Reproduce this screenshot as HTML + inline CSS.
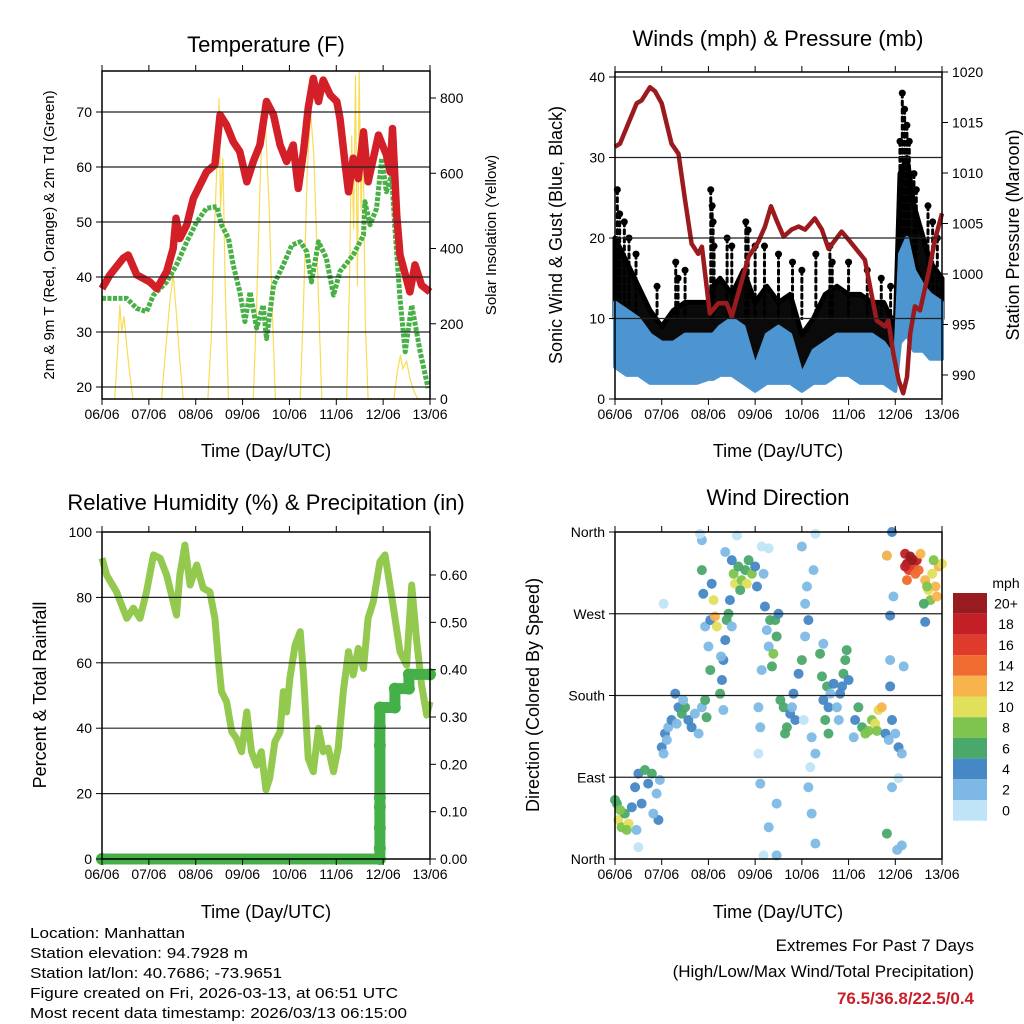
<!DOCTYPE html>
<html><head><meta charset="utf-8"><style>
html,body{margin:0;padding:0;background:#fff;}
svg{display:block;font-family:"Liberation Sans",sans-serif;}
</style></head><body>
<svg id="chart" width="1024" height="1024" viewBox="0 0 1024 1024" xmlns="http://www.w3.org/2000/svg">
<rect x="0" y="0" width="1024" height="1024" fill="#fff"/>
<g id="layer-data"></g>
<g id="layer-axes"></g>
<g fill="#000" text-anchor="middle">
<text x="266" y="52" font-size="22">Temperature (F)</text>
<text x="778" y="46" font-size="22">Winds (mph) &amp; Pressure (mb)</text>
<text x="266" y="510" font-size="22">Relative Humidity (%) &amp; Precipitation (in)</text>
<text x="778" y="505" font-size="22">Wind Direction</text>
<text x="266" y="457" font-size="18">Time (Day/UTC)</text>
<text x="778" y="457" font-size="18">Time (Day/UTC)</text>
<text x="266" y="918" font-size="18">Time (Day/UTC)</text>
<text x="778" y="918" font-size="18">Time (Day/UTC)</text>
<text transform="translate(54,235) rotate(-90)" font-size="15">2m &amp; 9m T (Red, Orange) &amp; 2m Td (Green)</text>
<text transform="translate(496,235) rotate(-90)" font-size="15">Solar Insolation (Yellow)</text>
<text transform="translate(562,235) rotate(-90)" font-size="18">Sonic Wind &amp; Gust (Blue, Black)</text>
<text transform="translate(1019,235) rotate(-90)" font-size="18">Station Pressure (Maroon)</text>
<text transform="translate(46,695) rotate(-90)" font-size="18">Percent &amp; Total Rainfall</text>
<text transform="translate(539,695) rotate(-90)" font-size="18">Direction (Colored By Speed)</text>
</g>
<g font-size="15" fill="#000">
<text x="30" y="938" textLength="155" lengthAdjust="spacingAndGlyphs">Location: Manhattan</text>
<text x="30" y="958" textLength="218" lengthAdjust="spacingAndGlyphs">Station elevation: 94.7928 m</text>
<text x="30" y="978" textLength="252" lengthAdjust="spacingAndGlyphs">Station lat/lon: 40.7686; -73.9651</text>
<text x="30" y="998" textLength="368" lengthAdjust="spacingAndGlyphs">Figure created on Fri, 2026-03-13, at 06:51 UTC</text>
<text x="30" y="1018" textLength="377" lengthAdjust="spacingAndGlyphs">Most recent data timestamp: 2026/03/13 06:15:00</text>
</g>
<g text-anchor="end">
<text x="974" y="951" font-size="17">Extremes For Past 7 Days</text>
<text x="974" y="977" font-size="17">(High/Low/Max Wind/Total Precipitation)</text>
<text x="974" y="1004" font-size="17" font-weight="bold" fill="#c8202a">76.5/36.8/22.5/0.4</text>
</g>
</svg>
<script>
// ---------------- DATA ----------------
const dayLabels = ['06/06','07/06','08/06','09/06','10/06','11/06','12/06','13/06'];

const tempDays = [0,0.17,0.45,0.56,0.74,1.02,1.17,1.38,1.52,1.58,1.66,1.81,1.95,2.09,2.23,2.41,2.52,2.66,2.8,2.94,3.09,3.23,3.37,3.51,3.66,3.8,3.94,4.08,4.19,4.3,4.4,4.51,4.62,4.72,4.87,5.01,5.08,5.19,5.26,5.36,5.47,5.58,5.68,5.9,6.07,6.15,6.2,6.29,6.36,6.57,6.68,6.82,7.0];
const tempVals = [37.9,40.4,43.4,44,40.4,39.1,37.9,41,45.2,50.7,47,49.5,54.3,56.7,59.1,60.4,69.5,67.6,64.6,62.8,57.3,61,64,71.9,69.5,64,61,64,56.1,62.8,70.7,76.1,71.9,75.8,73.1,71.9,68.8,60.4,55.5,61.6,57.9,66.4,57.3,65.8,62.2,59.1,67,51.3,44,37.3,42.2,38.5,37.3];

const dewDays = [0,0.24,0.53,0.74,0.95,1.1,1.38,1.59,1.81,2.02,2.23,2.45,2.55,2.7,2.8,2.94,3.05,3.16,3.3,3.44,3.51,3.66,3.87,4.05,4.23,4.37,4.47,4.62,4.79,4.94,5.08,5.36,5.58,5.61,5.72,5.86,5.97,6.07,6.18,6.25,6.36,6.47,6.61,6.79,6.96];
const dewVals = [36.1,36.1,36.1,34.3,33.7,36.7,39.1,42.2,46.4,50,52.5,52.8,49.5,47,42.2,37.3,31.9,37.3,30.7,34.9,28.8,38.5,42.2,45.8,46.4,44.6,39.1,46.4,43.4,36.7,41,44,47.6,53.7,49.5,52.5,61.6,55.5,58.5,48.9,36.1,26.4,34.9,26.4,19.8];

const solarDays = [0,0.27,0.33,0.38,0.42,0.47,0.52,0.58,0.66,1.27,1.35,1.45,1.52,1.58,1.65,1.73,2.26,2.33,2.4,2.47,2.5,2.53,2.58,2.63,2.7,3.23,3.3,3.38,3.45,3.5,3.57,3.63,3.7,4.23,4.3,4.38,4.45,4.52,4.6,4.69,5.22,5.28,5.33,5.37,5.41,5.45,5.49,5.53,5.57,5.62,5.68,6.23,6.3,6.37,6.42,6.5,6.58,6.66,6.74,7.0];
const solarVals = [0,0,120,250,180,220,150,80,0,0,120,260,330,240,120,0,0,160,450,680,800,500,640,300,0,0,250,600,788,700,500,250,0,0,250,600,765,650,350,0,0,300,700,450,860,300,870,500,700,200,0,0,70,117,80,100,50,20,0,0];

const pressDays = [0,0.107,0.285,0.464,0.571,0.75,0.857,1.0,1.21,1.36,1.5,1.64,1.78,1.86,2.03,2.21,2.39,2.5,2.64,2.86,3.07,3.21,3.34,3.46,3.61,3.78,3.93,4.07,4.28,4.43,4.57,4.85,5.0,5.21,5.35,5.6,5.78,5.85,5.96,6.07,6.17,6.25,6.32,6.42,6.53,6.71,6.85,7.0];
const pressVals = [1012.6,1012.9,1014.9,1016.9,1017.2,1018.5,1018.1,1016.9,1012.9,1011.9,1007.3,1003,1002,1002.7,996.1,997.1,997.1,995.8,998.1,1001.7,1003.2,1004.7,1006.7,1005.3,1003.7,1004.4,1004.7,1004.4,1005.5,1004.4,1002.5,1004.2,1003.4,1002.2,1001.4,995.4,994.8,995.4,992.1,989.5,988.2,989.8,994.1,996.8,996.4,1000.1,1003.4,1006];

const windDays = [0,0.25,0.5,0.75,1,1.25,1.5,1.75,2,2.1,2.25,2.5,2.75,3,3.25,3.5,3.75,4,4.25,4.5,4.75,5,5.25,5.5,5.75,6,6.1,6.25,6.4,6.6,6.75,7];
const gustHigh = [20,17,14,11,9,11,12,12,12,14,15,13,16,12,14,12,13,8,10,13,14,13,13,12,12,9,28,30,24,20,17,15];
const gustLow = [10,9,8,6,5,5,6,6,7,7,7,8,7,3,6,5,6,2,5,6,6,6,6,5,5,3,14,20,17,14,12,10];
const sonicHigh = [12,11,10,8,7,7,8,8,8,8,9,10,9,4,8,9,8,3,6,7,8,8,8,8,7,5,18,20,16,14,13,12];
const sonicLow = [4,3,3,2,2,2,2,2,2.5,2.5,3,3,2,1,2,2,2,1,2,2,3,3,2,2,2,1,7,8,6,6,5,5];
const gustPeakDays = [0.05,0.1,0.2,0.3,0.45,0.9,1.3,1.35,1.5,2.05,2.08,2.1,2.12,2.4,2.5,2.8,2.85,3.0,3.2,3.5,3.8,4.0,4.3,4.6,4.65,5.0,5.4,5.7,5.9,6.1,6.15,6.2,6.25,6.3,6.4,6.45,6.7,6.8,6.9];
const gustPeakVals = [26,23,22,20,18,14,17,15,16,26,24,22,19,20,19,22,21,19,19,18,17,16,18,19,17,17,16,15,14,32,38,36,34,32,28,26,24,22,20];

const rhDays = [0,0.1,0.31,0.53,0.67,0.81,0.95,1.1,1.24,1.38,1.59,1.66,1.77,1.88,2.02,2.16,2.3,2.41,2.48,2.55,2.66,2.77,2.87,2.98,3.09,3.19,3.3,3.4,3.5,3.58,3.69,3.8,3.87,3.94,4.01,4.12,4.23,4.3,4.4,4.51,4.62,4.72,4.83,4.94,5.04,5.15,5.26,5.36,5.47,5.58,5.68,5.79,5.93,6.04,6.11,6.22,6.36,6.5,6.61,6.71,6.82,6.93,7.0];
const rhVals = [92,86.8,81.7,73.6,76.7,73.6,81.7,93,92,86.8,74.6,86.8,96,83.8,89.9,82.8,81.7,73.6,61.4,51.2,48.1,38.9,36.9,32.8,45,32.8,28.7,32.8,21.1,24.7,35.9,38.9,51.2,45,55.3,65.4,69.5,56.3,30.8,26.7,40,32.8,33.9,26.7,33.9,51.2,63.4,56.3,64.4,58.3,73.6,78.7,90.9,93,86.8,76.7,63.4,59.3,83.8,67.5,53.2,44,48.1];

const precipDays = [0,5.93,5.93,5.93,5.93,5.93,5.93,5.93,5.93,6.25,6.25,6.55,6.55,7.0];
const precipVals = [0,0,0.023,0.066,0.11,0.13,0.24,0.28,0.32,0.32,0.36,0.36,0.39,0.39];

const dirDays = [0.04,0.07,0.14,0.21,0.29,0.11,0.36,0.0,0.25,
0.43,0.5,0.64,0.71,0.79,0.89,0.93,0.57,0.46,0.82,0.96,0.5,
1.0,1.07,1.14,1.21,1.11,1.04,
1.29,1.36,1.43,1.5,1.57,1.64,1.71,1.79,1.86,1.93,1.96,1.32,1.46,
1.86,1.89,1.93,2.0,2.04,2.07,2.04,2.11,2.14,2.18,1.86,1.82,1.04,
2.25,2.29,2.32,2.36,2.39,2.43,2.46,2.5,2.27,2.32,
2.54,2.57,2.64,2.71,2.79,2.86,2.93,3.0,2.82,2.68,2.61,2.36,2.5,3.04,
3.07,3.11,3.14,3.18,3.21,3.25,3.29,3.36,3.39,3.43,3.46,3.32,3.14,3.29,3.11,3.46,3.29,3.18,3.46,3.07,
3.54,3.61,3.68,3.75,3.82,3.86,3.64,3.79,3.5,
3.93,4.0,4.07,4.14,4.21,4.29,4.14,4.21,4.29,4.0,4.25,4.29,4.07,4.11,4.04,4.18,
4.43,4.46,4.5,4.57,4.54,4.39,4.46,4.61,4.57,
4.68,4.75,4.82,4.89,4.93,4.96,4.86,5.0,4.79,
5.14,5.21,5.29,5.36,5.43,5.5,5.57,5.64,5.71,5.61,5.11,
5.79,5.86,5.93,6.0,6.07,6.14,5.89,5.89,5.93,6.04,5.82,5.93,5.82,5.96,5.89,6.18,6.14,6.07,
6.21,6.25,6.32,6.39,6.46,6.29,6.43,6.54,6.25,6.36,6.21,6.5,
6.64,6.71,6.79,6.86,6.93,7.0,6.75,6.68,6.61,6.89,6.82,6.64,5.82];
const dirDeg = [61,43,35,50,39,54,57,65,32,
79,94,98,83,94,72,43,61,32,50,87,13,
123,138,145,153,131,116,
182,167,160,167,153,145,160,138,167,175,156,149,175,
318,292,256,234,208,303,263,285,267,256,351,358,281,
182,197,219,241,263,270,285,256,223,164,
314,303,322,307,318,329,314,322,303,296,356,338,329,300,
167,145,208,314,278,252,234,212,226,263,245,263,344,342,83,61,35,4,4,116,
175,167,145,160,182,153,138,167,270,
204,219,245,263,134,116,79,50,17,344,318,358,281,300,153,101,
201,175,153,138,190,226,237,182,167,
193,167,182,204,219,230,190,197,153,
153,167,145,138,141,153,149,164,167,141,134,
138,131,153,138,123,116,190,219,79,10,28,360,334,289,268,212,15,89,
336,325,333,322,329,318,314,336,307,329,322,318,
307,296,314,300,322,325,285,300,281,289,329,261,334];
const dirSpeed = [7,10,8,6,11,8,5,6,9,
4,5,7,4,6,3,4,4,3,3,2,1,
4,4,3,5,3,2,
4,5,6,7,5,4,3,2,3,6,6,2,3,
6,4,3,3,6,4,5,10,12,10,2,1,1,
7,5,4,4,6,7,4,3,3,3,
9,10,6,8,7,6,8,5,11,7,1,3,4,4,
2,2,3,3,4,3,3,6,8,6,7,6,1,1,2,3,2,1,3,1,
6,6,6,5,4,4,6,3,4,
5,7,3,4,2,2,2,2,3,2,2,1,3,2,1,1,
6,5,6,6,7,6,3,3,4,
4,3,5,6,6,7,4,5,3,
5,6,7,8,9,8,10,10,12,8,3,
4,3,4,3,5,2,4,3,2,2,6,4,3,2,4,2,2,1,
18,20,20,17,19,16,15,13,14,21,18,14,
12,10,11,12,13,11,9,8,6,12,8,4,12];

const speedBinLabels = ['20+','18','16','14','12','10','8','6','4','2','0'];
const speedColors = ['#bfe4f7','#7db9e4','#4687c5','#4aa86a','#7ec44e','#e2df5b','#f8b44c','#ef6b2f','#de3b2c','#c21f27','#981b1f'];

const tempTicks = [20,30,40,50,60,70];
const solarTicks = [0,200,400,600,800];
const windTicks = [0,10,20,30,40];
const pressTicks = [990,995,1000,1005,1010,1015,1020];
const rhTicks = [0,20,40,60,80,100];
const precipTicks = [0,0.1,0.2,0.3,0.4,0.5,0.6];
const dirTicks = [0,90,180,270,360];
const dirTickLabels = ['North','East','South','West','North'];

// ---------------- HELPERS ----------------
const NS = 'http://www.w3.org/2000/svg';
const dataLayer = document.getElementById('layer-data');
const axesLayer = document.getElementById('layer-axes');
function mk(tag, attrs, parent) {
  const e = document.createElementNS(NS, tag);
  for (const k in attrs) e.setAttribute(k, attrs[k]);
  parent.appendChild(e);
  return e;
}
function linScale(d0, d1, r0, r1) { return v => r0 + (v - d0) * (r1 - r0) / (d1 - d0); }
function pathFrom(xs, ys, sx, sy) {
  return xs.map((d, i) => (i ? 'L' : 'M') + sx(d).toFixed(1) + ',' + sy(ys[i]).toFixed(1)).join('');
}
function bandFrom(xs, hi, lo, sx, sy) {
  let p = xs.map((d, i) => (i ? 'L' : 'M') + sx(d).toFixed(1) + ',' + sy(hi[i]).toFixed(1)).join('');
  for (let i = xs.length - 1; i >= 0; i--) p += 'L' + sx(xs[i]).toFixed(1) + ',' + sy(lo[i]).toFixed(1);
  return p + 'Z';
}

const panels = {
  temp:  {x0:102, x1:430, y0:71,  y1:399},
  wind:  {x0:615, x1:942, y0:72,  y1:399},
  rh:    {x0:102, x1:430, y0:532, y1:859},
  dir:   {x0:615, x1:942, y0:532, y1:859}
};

function drawAxes(key, p, leftTicks, leftScale, leftFmt, rightTicks, rightScale, rightFmt, gridTicks) {
  const g = mk('g', {}, axesLayer);
  
  
  const sx = linScale(0, 7, p.x0, p.x1);
  gridTicks.forEach(v => {
    const y = leftScale(v);
    const gl = mk('line', {x1:p.x0, x2:p.x1, y1:y, y2:y, stroke:'#222', 'stroke-width':1.2}, g);
    
    
  });
  const box = mk('rect', {x:p.x0, y:p.y0, width:p.x1 - p.x0, height:p.y1 - p.y0, fill:'none', stroke:'#000', 'stroke-width':1.5}, g);
  
  
  dayLabels.forEach((lab, i) => {
    const x = sx(i);
    const t1 = mk('line', {x1:x, x2:x, y1:p.y1, y2:p.y1 + 6, stroke:'#000', 'stroke-width':1}, g);
    
    
    const t2 = mk('line', {x1:x, x2:x, y1:p.y0, y2:p.y0 - 6, stroke:'#000', 'stroke-width':1}, g);
    
    
    const tx = mk('text', {x:x, y:p.y1 + 20, 'font-size':14, 'text-anchor':'middle'}, g);
    tx.textContent = lab;
    
    
  });
  leftTicks.forEach((v, i) => {
    const y = leftScale(v);
    const t = mk('line', {x1:p.x0 - 6, x2:p.x0, y1:y, y2:y, stroke:'#000', 'stroke-width':1}, g);
    
    
    const tx = mk('text', {x:p.x0 - 10, y:y + 5, 'font-size':14, 'text-anchor':'end'}, g);
    tx.textContent = leftFmt(v, i);
    
    
  });
  if (rightTicks) {
    rightTicks.forEach((v, i) => {
      const y = rightScale(v);
      const t = mk('line', {x1:p.x1, x2:p.x1 + 6, y1:y, y2:y, stroke:'#000', 'stroke-width':1}, g);
      
      
      const tx = mk('text', {x:p.x1 + 10, y:y + 5, 'font-size':14, 'text-anchor':'start'}, g);
      tx.textContent = rightFmt(v, i);
      
      
    });
  }
}

// ---------------- TEMPERATURE ----------------
(function () {
  const p = panels.temp;
  const sx = linScale(0, 7, p.x0, p.x1);
  const sy = linScale(20, 70, 387, 112);
  const ss = linScale(0, 800, 399, 98);
  const sol = mk('path', {d:pathFrom(solarDays, solarVals, sx, ss), fill:'none', stroke:'#f8dc55', 'stroke-width':1.2}, dataLayer);
  
  
  const dew = mk('path', {d:pathFrom(dewDays, dewVals, sx, sy), fill:'none', stroke:'#47b046', 'stroke-width':5, 'stroke-linejoin':'round', 'stroke-dasharray':'4 1.5'}, dataLayer);
  
  
  const tl = mk('path', {d:pathFrom(tempDays, tempVals, sx, sy), fill:'none', stroke:'#d31f27', 'stroke-width':7.5, 'stroke-linejoin':'round'}, dataLayer);
  
  
  drawAxes('temp', p, tempTicks, sy, v => String(v), solarTicks, ss, v => String(v), tempTicks);
})();

// ---------------- WINDS ----------------
(function () {
  const p = panels.wind;
  const sx = linScale(0, 7, p.x0, p.x1);
  const sy = linScale(0, 40, 399, 77);
  const sp = linScale(1000, 1020, 274, 72);
  const gb = mk('path', {d:bandFrom(windDays, gustHigh, gustLow, sx, sy), fill:'#0a0a0a', stroke:'#000', 'stroke-width':5, 'stroke-linejoin':'round'}, dataLayer);
  
  
  gustPeakDays.forEach((d, i) => {
    const c = mk('circle', {cx:sx(d), cy:sy(gustPeakVals[i]), r:3.5, fill:'#000'}, dataLayer);
    
    
    const ln = mk('line', {x1:sx(d), x2:sx(d), y1:sy(gustPeakVals[i]), y2:sy(gustLow[0] > 0 ? 10 : 10), stroke:'#000', 'stroke-width':3, 'stroke-dasharray':'4 4', 'stroke-linecap':'round'}, dataLayer);
    
    
  });
  const sb = mk('path', {d:bandFrom(windDays, sonicHigh, sonicLow, sx, sy), fill:'#4d95d0', stroke:'#4d95d0', 'stroke-width':4, 'stroke-linejoin':'round'}, dataLayer);
  
  
  const pl = mk('path', {d:pathFrom(pressDays, pressVals, sx, sp), fill:'none', stroke:'#9b1a1e', 'stroke-width':4.5, 'stroke-linejoin':'round'}, dataLayer);
  
  
  drawAxes('wind', p, windTicks, sy, v => String(v), pressTicks, sp, v => String(v), [10,20,30,40]);
})();

// ---------------- RH ----------------
(function () {
  const p = panels.rh;
  const sx = linScale(0, 7, p.x0, p.x1);
  const sy = linScale(0, 100, 859, 532);
  const spc = linScale(0, 0.6, 859, 575);
  const rl = mk('path', {d:pathFrom(rhDays, rhVals, sx, sy), fill:'none', stroke:'#93c94f', 'stroke-width':7, 'stroke-linejoin':'round'}, dataLayer);
  
  
  const pr = mk('path', {d:pathFrom(precipDays, precipVals, sx, spc), fill:'none', stroke:'#46b048', 'stroke-width':11, 'stroke-linecap':'round', 'stroke-linejoin':'round'}, dataLayer);
  
  
  precipDays.forEach((d, i) => {
    const c = mk('circle', {cx:sx(d), cy:spc(precipVals[i]), r:6, fill:'#46b048'}, dataLayer);
    
    
  });
  drawAxes('rh', p, rhTicks, sy, v => String(v), precipTicks, spc, v => v.toFixed(2), [20,40,60,80]);
})();

// ---------------- WIND DIRECTION ----------------
(function () {
  const p = panels.dir;
  const sx = linScale(0, 7, p.x0, p.x1);
  const sy = linScale(0, 360, 859, 532);
  dirDays.forEach((d, i) => {
    const bin = Math.min(10, Math.floor(dirSpeed[i] / 2));
    const c = mk('circle', {cx:sx(d), cy:sy(dirDeg[i]), r:5, fill:speedColors[bin], 'fill-opacity':0.95}, dataLayer);
    
    
  });
  drawAxes('dir', p, dirTicks, sy, (v, i) => dirTickLabels[i], null, null, null, [90,180,270]);
  const cb = mk('g', {}, axesLayer);
  
  
  const t = mk('text', {x:1006, y:588, 'font-size':14, 'text-anchor':'middle'}, cb);
  t.textContent = 'mph';
  
  
  const bh = 20.7;
  speedBinLabels.forEach((lab, i) => {
    const y = 593 + i * bh;
    const r = mk('rect', {x:953, y:y, width:34, height:bh, fill:speedColors[10 - i]}, cb);
    
    
    const tx = mk('text', {x:1006, y:y + bh / 2 + 5, 'font-size':14, 'text-anchor':'middle'}, cb);
    tx.textContent = lab;
    
    
  });
})();
</script>
</body></html>
